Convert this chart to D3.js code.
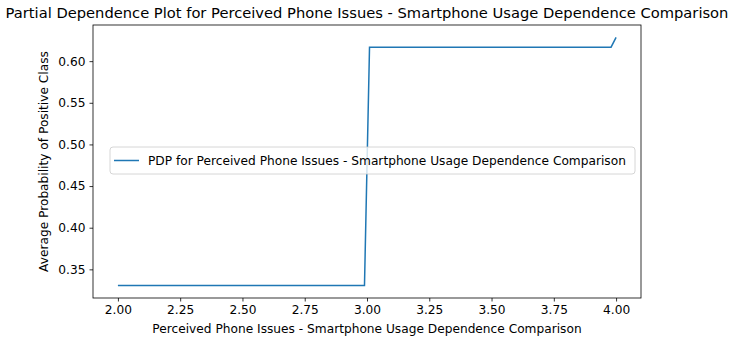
<!DOCTYPE html>
<html>
<head>
<meta charset="utf-8">
<script src="https://cdn.jsdelivr.net/npm/d3@7"></script>
<style>
  body { margin: 0; background: #fff; }
  text { font-family: "DejaVu Sans", sans-serif; fill: #000; }
</style>
</head>
<body>
<script>
// PDP grid values
var gridX = [2.0, 2.9899, 3.0101, 3.9798, 4.0];
var pdpY = [0.3305, 0.3305, 0.6168, 0.6168, 0.6285];
var xTicks = [2.0, 2.25, 2.5, 2.75, 3.0, 3.25, 3.5, 3.75, 4.0];
var yTicks = [0.35, 0.40, 0.45, 0.50, 0.55, 0.60];

var width = 730, height = 341;
var m = {left: 93, right: 641, top: 25, bottom: 298};
var blue = "#1f77b4";
var fs = "12.2px";

var svg = d3.select("body").append("svg")
    .attr("width", width)
    .attr("height", height);

// matplotlib style 5% margins
var xMin = d3.min(gridX), xMax = d3.max(gridX);
var yMin = d3.min(pdpY), yMax = d3.max(pdpY);
var xPad = (xMax - xMin) * 0.05, yPad = (yMax - yMin) * 0.05;

var x = d3.scaleLinear().domain([xMin - xPad, xMax + xPad]).range([m.left, m.right]);
var y = d3.scaleLinear().domain([yMin - yPad, yMax + yPad]).range([m.bottom, m.top]);

var xAxis = svg.append("g")
    .attr("transform", "translate(0," + m.bottom + ")")
    .call(d3.axisBottom(x).tickValues(xTicks).tickFormat(d3.format(".2f")).tickSize(3.5).tickPadding(4));
var yAxis = svg.append("g")
    .attr("transform", "translate(" + m.left + ",0)")
    .call(d3.axisLeft(y).tickValues(yTicks).tickFormat(d3.format(".2f")).tickSize(3.5).tickPadding(4));

[xAxis, yAxis].forEach(function(g) {
    g.select(".domain").remove();
    g.selectAll("text").style("font-size", fs).style("font-family", "DejaVu Sans, sans-serif").attr("fill", "#000");
    g.selectAll("line").attr("stroke", "#000").attr("stroke-width", 0.8);
});

var line = d3.line()
    .x(function(d, i) { return x(gridX[i]); })
    .y(function(d) { return y(d); });

svg.append("path")
    .datum(pdpY)
    .attr("d", line)
    .attr("fill", "none")
    .attr("stroke", blue)
    .attr("stroke-width", 1.5);

// frame
svg.append("rect")
    .attr("x", m.left).attr("y", m.top)
    .attr("width", m.right - m.left).attr("height", m.bottom - m.top)
    .attr("fill", "none").attr("stroke", "#000").attr("stroke-width", 0.8);

svg.append("text")
    .attr("x", (m.left + m.right) / 2).attr("y", 18)
    .attr("text-anchor", "middle")
    .style("font-size", "14.7px")
    .text("Partial Dependence Plot for Perceived Phone Issues - Smartphone Usage Dependence Comparison");

svg.append("text")
    .attr("x", (m.left + m.right) / 2).attr("y", 333)
    .attr("text-anchor", "middle")
    .style("font-size", fs)
    .text("Perceived Phone Issues - Smartphone Usage Dependence Comparison");

svg.append("text")
    .attr("transform", "translate(48," + ((m.top + m.bottom) / 2) + ") rotate(-90)")
    .attr("text-anchor", "middle")
    .style("font-size", fs)
    .text("Average Probability of Positive Class");

// legend
var leg = svg.append("g");
leg.append("rect")
    .attr("x", 110).attr("y", 147)
    .attr("width", 525).attr("height", 27)
    .attr("rx", 3)
    .attr("fill", "#fff").attr("fill-opacity", 0.8)
    .attr("stroke", "#ccc").attr("stroke-width", 0.8);
leg.append("line")
    .attr("x1", 114).attr("x2", 139)
    .attr("y1", 160.5).attr("y2", 160.5)
    .attr("stroke", blue).attr("stroke-width", 1.5);
leg.append("text")
    .attr("x", 148).attr("y", 165)
    .style("font-size", fs)
    .text("PDP for Perceived Phone Issues - Smartphone Usage Dependence Comparison");
</script>
</body>
</html>
